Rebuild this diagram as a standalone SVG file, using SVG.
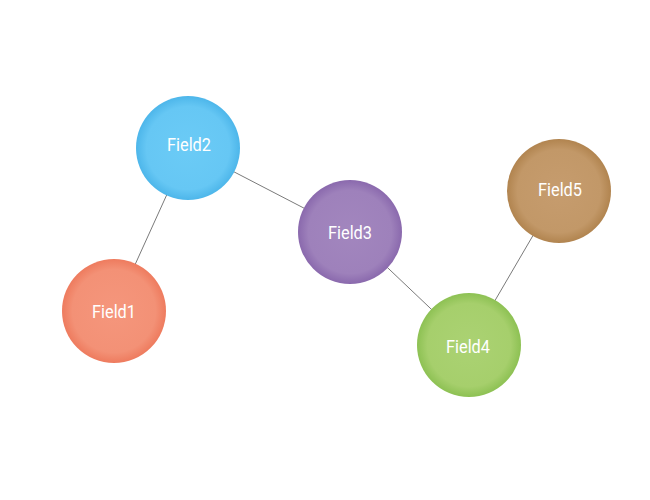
<svg xmlns="http://www.w3.org/2000/svg" width="650" height="500" viewBox="0 0 650 500">
<defs>
<radialGradient id="g1"><stop offset="0" stop-color="#f5967c"/><stop offset="0.8" stop-color="#f39176"/><stop offset="1" stop-color="#ee7b5e"/></radialGradient>
<radialGradient id="g2"><stop offset="0" stop-color="#6bcbf6"/><stop offset="0.8" stop-color="#66c7f4"/><stop offset="1" stop-color="#4db6ea"/></radialGradient>
<radialGradient id="g3"><stop offset="0" stop-color="#a286be"/><stop offset="0.8" stop-color="#9e81bb"/><stop offset="1" stop-color="#8a69ad"/></radialGradient>
<radialGradient id="g4"><stop offset="0" stop-color="#abd273"/><stop offset="0.8" stop-color="#a6cf6c"/><stop offset="1" stop-color="#8dc153"/></radialGradient>
<radialGradient id="g5"><stop offset="0" stop-color="#c69c6e"/><stop offset="0.8" stop-color="#c29868"/><stop offset="1" stop-color="#b1844f"/></radialGradient>
</defs>
<style>
.edge{stroke:#7a7a7a;stroke-width:1;fill:none}
.lbl{font-family:Roboto,"Liberation Sans",sans-serif;font-size:18px;fill:#ffffff;text-anchor:middle}
</style>
<rect width="650" height="500" fill="#ffffff"/>
<g id="connectors">
<line class="edge" x1="188" y1="148" x2="114" y2="311"/>
<line class="edge" x1="188" y1="148" x2="350" y2="232"/>
<line class="edge" x1="350" y1="232" x2="469" y2="345"/>
<line class="edge" x1="469" y1="345" x2="559" y2="191"/>
</g>
<g id="field1"><circle cx="114" cy="311" r="52" fill="url(#g1)"/><text class="lbl" x="114" y="318" textLength="44" lengthAdjust="spacingAndGlyphs">Field1</text></g>
<g id="field2"><circle cx="188" cy="148" r="52" fill="url(#g2)"/><text class="lbl" x="189" y="151" textLength="44" lengthAdjust="spacingAndGlyphs">Field2</text></g>
<g id="field3"><circle cx="350" cy="232" r="52" fill="url(#g3)"/><text class="lbl" x="350" y="239" textLength="44" lengthAdjust="spacingAndGlyphs">Field3</text></g>
<g id="field4"><circle cx="469" cy="345" r="52" fill="url(#g4)"/><text class="lbl" x="468" y="353" textLength="44" lengthAdjust="spacingAndGlyphs">Field4</text></g>
<g id="field5"><circle cx="559" cy="191" r="52" fill="url(#g5)"/><text class="lbl" x="560" y="196" textLength="44" lengthAdjust="spacingAndGlyphs">Field5</text></g>
</svg>
